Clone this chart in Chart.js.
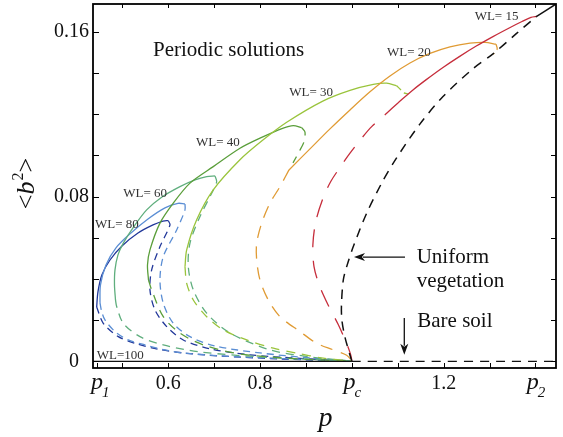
<!DOCTYPE html>
<html>
<head>
<meta charset="utf-8">
<title>Periodic solutions</title>
<script src="https://cdn.jsdelivr.net/npm/chart.js@4.4.1/dist/chart.umd.min.js"></script>
<style>
    html, body { margin: 0; padding: 0; background: #fff; }
    #wrap { width: 563px; height: 437px; }
</style>
</head>
<body>
<div id="wrap"><canvas id="bifChart" width="563" height="437"></canvas></div>
<script>
// axis ranges and ticks
const xMin = 0.436, xMax = 1.4447;
const yMin = -0.0032, yMax = 0.1734;
const xTickValues = [0.444, 0.5, 0.6, 0.7, 0.8, 0.9, 1.0, 1.1, 1.2, 1.3, 1.4];
const xTickLabels = ['', '', '0.6', '', '0.8', '', '', '', '1.2', '', ''];
const yTickValues = [0, 0.02, 0.04, 0.06, 0.08, 0.10, 0.12, 0.14, 0.16];
const yTickLabels = ['0\u2002', '', '', '', '0.08', '', '', '', '0.16'];
const pTicks = [[0.444, '1'], [1.0, 'c'], [1.4, '2']];

// uniform vegetation and bare soil
const uniformUnstable = [[1.0,0],[0.9956,0.0032],[0.9847,0.0120],[0.9782,0.0201],[0.9773,0.0274],[0.9813,0.0395],[0.9887,0.0460],[1.0031,0.0557],[1.0322,0.0719],[1.0649,0.0865],[1.0967,0.0985],[1.1477,0.1150],[1.1985,0.1285],[1.2638,0.1420],[1.3074,0.1492],[1.3582,0.1590],[1.4017,0.1673]];
const uniformStable = [[1.4017,0.1673],[1.4447,0.1734]];
const bareSoilStable = [[0.40,0],[1.0,0]];
const bareSoilUnstable = [[1.0,0],[1.46,0]];

// WL = 15
const wl15Stable = [[1.4033,0.1674],[1.3902,0.1669],[1.3706,0.1649],[1.3438,0.1619],[1.3074,0.1576],[1.2710,0.1530],[1.2349,0.1480],[1.1985,0.1426],[1.1621,0.1367],[1.1331,0.1317],[1.1004,0.1254]];
const wl15Unstable = [[1.1004,0.1254],[1.0758,0.1204],[1.0431,0.1139],[1.0213,0.1083],[0.9959,0.1010],[0.9778,0.0953],[0.9540,0.0873],[0.9377,0.0795],[0.9215,0.0680],[0.9150,0.0565],[0.9175,0.0460],[0.9290,0.0370],[0.9480,0.0275],[0.9700,0.0180],[0.9880,0.0090],[0.9970,0.0035],[1.0,0.0003]];

// WL = 20
const wl20Stable = [[0.8630,0.0929],[0.9087,0.1031],[0.9523,0.1128],[0.9959,0.1220],[1.0394,0.1308],[1.0830,0.1385],[1.1266,0.1448],[1.1701,0.1494],[1.2137,0.1526],[1.2573,0.1544],[1.2900,0.1548],[1.3140,0.1539]];
const wl20Hook = [[1.3140,0.1539],[1.3165,0.1515],[1.3081,0.1490]];
const wl20Unstable = [[0.8630,0.0929],[0.8434,0.0848],[0.8216,0.0768],[0.8035,0.0671],[0.7926,0.0574],[0.7926,0.0492],[0.7998,0.0395],[0.8179,0.0298],[0.8434,0.0217],[0.8869,0.0145],[0.9233,0.0088],[0.9595,0.0056],[0.9887,0.0030],[1.0,0.0003]];

// WL = 30
const wl30Stable = [[0.6364,0.0459],[0.6401,0.0541],[0.6619,0.0687],[0.6980,0.0832],[0.7562,0.0978],[0.8041,0.1070],[0.8580,0.1160],[0.9377,0.1264],[0.9959,0.1315],[1.0466,0.1344],[1.0758,0.1350],[1.0976,0.1337]];
const wl30Hook = [[1.0976,0.1337],[1.1070,0.1317],[1.1135,0.1303],[1.1222,0.1298]];
const wl30Unstable = [[0.6364,0.0459],[0.6401,0.0379],[0.6545,0.0298],[0.6837,0.0217],[0.7198,0.0153],[0.7708,0.0104],[0.8288,0.0064],[0.8797,0.0040],[0.9377,0.0016],[1.0,0.0002]];

// WL = 40
const wl40Stable = [[0.5569,0.0395],[0.5547,0.0468],[0.5601,0.0541],[0.5819,0.0671],[0.6109,0.0768],[0.6473,0.0865],[0.6980,0.0945],[0.7562,0.1034],[0.7998,0.1083],[0.8505,0.1132],[0.8723,0.1144],[0.8906,0.1134]];
const wl40Hook = [[0.8906,0.1134],[0.8978,0.1113],[0.8956,0.1065],[0.8847,0.1016],[0.8717,0.0963]];
const wl40Unstable = [[0.5569,0.0395],[0.5638,0.0347],[0.5891,0.0217],[0.6255,0.0137],[0.6763,0.0080],[0.7562,0.0036],[0.8869,0.0012],[1.0,0.0001]];

// WL = 60
const wl60Stable = [[0.4850,0.0298],[0.4828,0.0371],[0.4839,0.0444],[0.4904,0.0517],[0.5020,0.0574],[0.5231,0.0648],[0.5529,0.0735],[0.5863,0.0798],[0.6255,0.0848],[0.6582,0.0881],[0.6837,0.0897],[0.7017,0.0900]];
const wl60Hook = [[0.7017,0.0900],[0.7054,0.0871],[0.6946,0.0816],[0.6691,0.0703],[0.6473,0.0574],[0.6436,0.0460],[0.6545,0.0347],[0.6837,0.0234],[0.7344,0.0138],[0.8216,0.0056],[0.9087,0.0022],[1.0,0.0001]];
const wl60Unstable = [[0.4850,0.0298],[0.4876,0.0266],[0.5020,0.0185],[0.5383,0.0120],[0.5891,0.0080],[0.6691,0.0046],[0.7998,0.0022],[1.0,0.0001]];

// WL = 80
const wl80Stable = [[0.4512,0.0284],[0.4523,0.0371],[0.4643,0.0468],[0.4861,0.0551],[0.5187,0.0623],[0.5558,0.0691],[0.5928,0.0745],[0.6211,0.0767],[0.6364,0.0764]];
const wl80Hook = [[0.6364,0.0764],[0.6364,0.0735],[0.6183,0.0638],[0.5891,0.0508],[0.5819,0.0395],[0.5891,0.0282],[0.6109,0.0185],[0.6473,0.0120],[0.7017,0.0075],[0.7998,0.0041],[0.9087,0.0017],[1.0,0.0001]];
const wl80Unstable = [[0.4512,0.0284],[0.4549,0.0242],[0.4621,0.0201],[0.4839,0.0145],[0.5129,0.0104],[0.5492,0.0080],[0.5928,0.0056],[0.6364,0.0040],[0.7562,0.0022],[1.0,0.0001]];

// WL = 100
const wl100Stable = [[0.4440,0.0264],[0.4468,0.0337],[0.4555,0.0420],[0.4730,0.0492],[0.4991,0.0560],[0.5340,0.0623],[0.5667,0.0662],[0.5885,0.0681],[0.6000,0.0683]];
const wl100Hook = [[0.6000,0.0683],[0.6037,0.0662],[0.5819,0.0557],[0.5638,0.0444],[0.5601,0.0347],[0.5710,0.0250],[0.5965,0.0169],[0.6327,0.0104],[0.6908,0.0061],[0.7780,0.0032],[0.8869,0.0015],[1.0,0.0001]];
const wl100Unstable = [[0.4440,0.0264],[0.4584,0.0185],[0.4911,0.0120],[0.5275,0.0088],[0.5782,0.0059],[0.6364,0.0040],[0.7083,0.0027],[0.8434,0.0012],[1.0,0.0001]];

// text notes, anchored in data units (left, baseline)
const wlNotes = [['WL= 15',1.2675,0.1654],['WL= 20',1.0765,0.1482],['WL= 30',0.8636,0.1290],['WL= 40',0.6603,0.1045],['WL= 60',0.5020,0.0797],['WL= 80',0.4403,0.0646],['WL=100',0.4440,0.0012]];
const bigNotes = [['Periodic solutions',0.5667,0.1483],['Uniform',1.1412,0.0479],['vegetation',1.1412,0.0363],['Bare soil',1.1425,0.0166]];
const arrows = [[1.1157,0.0506,1.0046,0.0506],[1.1142,0.0210,1.1142,0.0032]];

const serif = "'Liberation Serif', 'Times New Roman', serif";
const black = '#111', red = '#c62d3b', orange = '#e09b34', yellowGreen = '#9ac43c';
const darkGreen = '#5a9e3a', teal = '#5fae7d', lightBlue = '#5b8ed4', darkBlue = '#22389a';

function curve(points, color, dash, width) {
    return {
        data: points.map(p => ({ x: p[0], y: p[1] })),
        borderColor: color,
        borderWidth: width || 1.3,
        borderDash: dash || [],
        pointRadius: 0,
        showLine: true,
        fill: false,
        tension: 0.3
    };
}

const datasets = [
    curve(bareSoilStable, black, [], 1.3),
    curve(bareSoilUnstable, black, [9, 7], 1.3),
    curve(uniformUnstable, black, [9, 7], 1.5),
    curve(uniformStable, black, [], 1.5),
    curve(wl15Stable, red),
    curve(wl15Unstable, red, [18, 13]),
    curve(wl20Stable, orange),
    curve(wl20Hook, orange, [6, 4]),
    curve(wl20Unstable, orange, [12, 9]),
    curve(wl30Stable, yellowGreen),
    curve(wl30Hook, yellowGreen, [6, 4]),
    curve(wl30Unstable, yellowGreen, [9, 7]),
    curve(wl40Stable, darkGreen),
    curve(wl40Hook, darkGreen, [9, 7]),
    curve(wl40Unstable, darkGreen, [9, 7]),
    curve(wl60Stable, teal),
    curve(wl60Hook, teal, [8, 6]),
    curve(wl60Unstable, teal, [8, 6]),
    curve(wl80Stable, lightBlue),
    curve(wl80Hook, lightBlue, [7, 5]),
    curve(wl80Unstable, lightBlue, [7, 5]),
    curve(wl100Stable, darkBlue),
    curve(wl100Hook, darkBlue, [7, 5]),
    curve(wl100Unstable, darkBlue, [7, 5])
];

function noPadding(scale) {
    scale.paddingTop = 0;
    scale.paddingBottom = 0;
    scale.paddingLeft = 0;
    scale.paddingRight = 0;
}

// frame, inward ticks, p labels, titles and notes
const decorPlugin = {
    id: 'decor',
    afterDatasetsDraw(chart) {
        const { ctx, chartArea: area, scales: { x, y } } = chart;
        ctx.save();
        ctx.strokeStyle = '#000';
        ctx.lineWidth = 1;
        ctx.beginPath();
        xTickValues.forEach((v, i) => {
            const px = Math.round(x.getPixelForValue(v)) + 0.5;
            ctx.moveTo(px, area.bottom);
            ctx.lineTo(px, area.bottom - 5);
            if (i > 0) {
                ctx.moveTo(px, area.top);
                ctx.lineTo(px, area.top + 4);
            }
        });
        yTickValues.forEach(v => {
            const py = Math.round(y.getPixelForValue(v)) + 0.5;
            ctx.moveTo(area.left, py);
            ctx.lineTo(area.left + 6, py);
            ctx.moveTo(area.right, py);
            ctx.lineTo(area.right - 5, py);
        });
        ctx.stroke();
        ctx.lineWidth = 1.8;
        ctx.strokeRect(area.left, area.top, area.right - area.left, area.bottom - area.top);

        ctx.fillStyle = '#111';
        ctx.textBaseline = 'alphabetic';

        // p1, pc, p2
        pTicks.forEach(([v, sub]) => {
            ctx.font = 'italic 24px ' + serif;
            const wp = ctx.measureText('p').width;
            ctx.font = 'italic 15px ' + serif;
            const ws = ctx.measureText(sub).width;
            let left = x.getPixelForValue(v) + 1 - (wp + ws) / 2;
            if (v < 0.5) left += 3;
            ctx.font = 'italic 24px ' + serif;
            ctx.fillText('p', left, 389);
            ctx.font = 'italic 15px ' + serif;
            ctx.fillText(sub, left + wp - 1, 397);
        });

        // axis titles
        ctx.font = 'italic 28px ' + serif;
        ctx.textAlign = 'center';
        ctx.fillText('p', (area.left + area.right) / 2 + 1, 426);
        ctx.textAlign = 'left';

        ctx.save();
        ctx.translate(34, 184);
        ctx.rotate(-Math.PI / 2);
        const parts = [['<', '26px ', 0], ['b', 'italic 26px ', 0], ['2', '16px ', -11], ['>', '26px ', 0]];
        let total = 0;
        parts.forEach(p => { ctx.font = p[1] + serif; total += ctx.measureText(p[0]).width; });
        let u = -total / 2;
        parts.forEach(p => {
            ctx.font = p[1] + serif;
            ctx.fillText(p[0], u, p[2]);
            u += ctx.measureText(p[0]).width + (p[0] === 'b' ? 1 : 0);
        });
        ctx.restore();

        // notes
        ctx.fillStyle = '#333';
        ctx.font = '13px ' + serif;
        wlNotes.forEach(([t, nx, ny]) => ctx.fillText(t, x.getPixelForValue(nx), y.getPixelForValue(ny)));
        ctx.fillStyle = '#111';
        ctx.font = '21px ' + serif;
        bigNotes.forEach(([t, nx, ny]) => ctx.fillText(t, x.getPixelForValue(nx), y.getPixelForValue(ny)));

        // arrows
        ctx.strokeStyle = '#111';
        ctx.lineWidth = 1.3;
        arrows.forEach(([x0, y0, x1, y1]) => {
            const ax = x.getPixelForValue(x0), ay = y.getPixelForValue(y0);
            const bx = x.getPixelForValue(x1), by = y.getPixelForValue(y1);
            const ang = Math.atan2(by - ay, bx - ax);
            const len = 11, half = 4;
            ctx.beginPath();
            ctx.moveTo(ax, ay);
            ctx.lineTo(bx - Math.cos(ang) * (len - 2), by - Math.sin(ang) * (len - 2));
            ctx.stroke();
            ctx.beginPath();
            ctx.moveTo(bx, by);
            ctx.lineTo(bx - Math.cos(ang) * len - Math.sin(ang) * half, by - Math.sin(ang) * len + Math.cos(ang) * half);
            ctx.lineTo(bx - Math.cos(ang) * (len - 3), by - Math.sin(ang) * (len - 3));
            ctx.lineTo(bx - Math.cos(ang) * len + Math.sin(ang) * half, by - Math.sin(ang) * len - Math.cos(ang) * half);
            ctx.closePath();
            ctx.fill();
        });
        ctx.restore();
    }
};

new Chart(document.getElementById('bifChart'), {
    type: 'scatter',
    data: { datasets: datasets },
    options: {
        responsive: false,
        animation: false,
        devicePixelRatio: 1,
        layout: { padding: { left: 0, right: 7, top: 4, bottom: 0 } },
        plugins: { legend: { display: false }, tooltip: { enabled: false } },
        scales: {
            x: {
                type: 'linear',
                min: xMin,
                max: xMax,
                afterBuildTicks: s => { s.ticks = xTickValues.map(v => ({ value: v })); },
                afterFit: s => { s.height = 69; noPadding(s); },
                grid: { display: false, drawTicks: false },
                border: { display: false },
                ticks: {
                    autoSkip: false,
                    maxRotation: 0,
                    padding: 4,
                    color: '#111',
                    font: { family: serif, size: 20 },
                    callback: (v, i) => xTickLabels[i]
                }
            },
            y: {
                type: 'linear',
                min: yMin,
                max: yMax,
                afterBuildTicks: s => { s.ticks = yTickValues.map(v => ({ value: v })); },
                afterFit: s => { s.width = 93; noPadding(s); },
                grid: { display: false, drawTicks: false },
                border: { display: false },
                ticks: {
                    autoSkip: false,
                    padding: 4,
                    color: '#111',
                    font: { family: serif, size: 20 },
                    callback: (v, i) => yTickLabels[i]
                }
            }
        }
    },
    plugins: [decorPlugin]
});
</script>
</body>
</html>
